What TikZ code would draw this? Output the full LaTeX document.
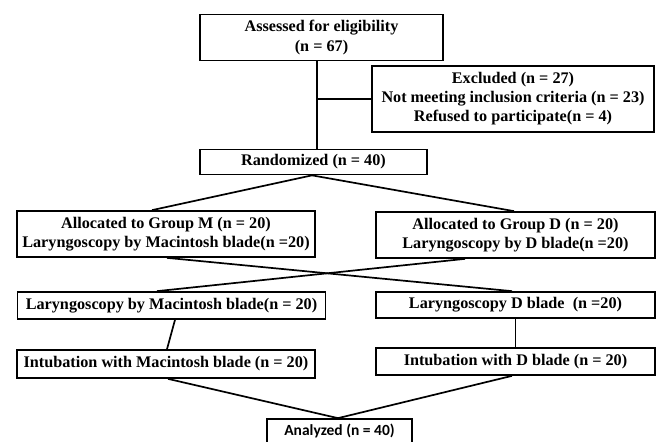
\documentclass[tikz,border=0pt]{standalone}
\usepackage{fontspec}
\setmainfont{Liberation Serif}
\newfontfamily\calfont{Carlito}
\begin{document}
\begin{tikzpicture}[x=1pt,y=-1pt,
  box/.style={draw, line width=1.7pt, inner sep=0pt, align=center,
    font=\bfseries\fontsize{16.2}{19}\selectfont},
  conn/.style={line width=1.7pt}]
\useasboundingbox (0,0) rectangle (657,442);
\node[box, minimum width=243pt, minimum height=46pt] (assess) at (321.5,37.5)
  {Assessed for eligibility\\[1pt](n = 67)};
\node[box, minimum width=282pt, minimum height=66pt] (excl) at (513,99)
  {Excluded (n = 27)\\Not meeting inclusion criteria (n = 23)\\Refused to participate(n = 4)};
\node[box, minimum width=227pt, minimum height=25pt] (rand) at (313.5,162)
  {Randomized (n = 40)};
\node[box, minimum width=298pt, minimum height=46pt] (M) at (166,234)
  {Allocated to Group M (n = 20)\\Laryngoscopy by Macintosh blade(n =20)};
\node[box, minimum width=279pt, minimum height=46pt] (D) at (515.5,235)
  {Allocated to Group D (n = 20)\\Laryngoscopy by D blade(n =20)};
\node[box, minimum width=308pt, minimum height=27pt] (LM) at (171.5,305.5)
  {Laryngoscopy by Macintosh blade(n = 20)};
\node[box, minimum width=279pt, minimum height=26pt] (LD) at (515.5,305)
  {Laryngoscopy D blade\ \ (n =20)};
\node[box, minimum width=298pt, minimum height=28pt] (IM) at (166,364)
  {Intubation with Macintosh blade (n = 20)};
\node[box, minimum width=279pt, minimum height=27pt] (ID) at (515.5,361.5)
  {Intubation with D blade (n = 20)};
\node[box, minimum width=145pt, minimum height=24pt,
  font=\calfont\bfseries\fontsize{15.5}{18}\selectfont] (an) at (339.5,431)
  {Analyzed (n = 40)};
\coordinate (vx) at ([xshift=-4.5pt]assess.south);
\draw[conn] (vx) -- (vx |- rand.north);
\draw[conn] (excl.west) -- (excl.west -| vx);
\draw[conn] ([xshift=-14pt]M.north) -- ([xshift=-1.5pt]rand.south) -- ([xshift=-1.5pt]D.north);
\draw[conn] ([xshift=1pt]M.south) -- ([xshift=-3.5pt]LD.north);
\draw[conn] ([xshift=-50.5pt]D.south) -- ([xshift=-14.5pt]LM.north);
\draw[conn] ([xshift=3.5pt]LM.south) -- ([xshift=1pt]IM.north);
\draw[conn] (LD.south) -- (LD.south |- ID.north);
\draw[conn] ([xshift=2pt]IM.south) -- ([xshift=-1.5pt]an.north) -- ([xshift=-3.5pt]ID.south);
\end{tikzpicture}
\end{document}
